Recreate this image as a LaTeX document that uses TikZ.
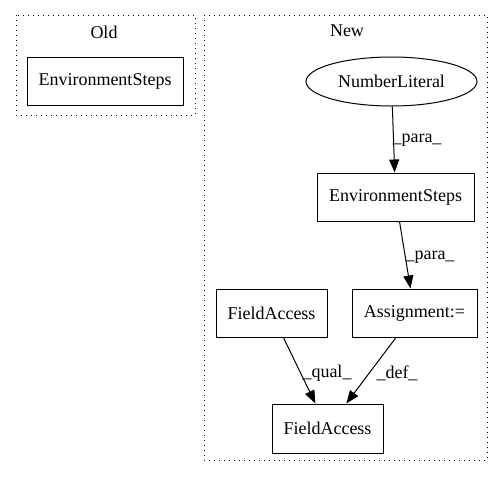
\documentclass[tikz,border=0pt]{standalone}
\usepackage{fontspec}
\setmainfont{Liberation Serif}
\usetikzlibrary{arrows.meta,shapes.geometric}
\tikzset{
  box/.style={draw,line width=1pt,rectangle,inner sep=0pt,minimum height=48pt,font=\fontsize{18}{20}\selectfont},
  oval/.style={draw,line width=1pt,ellipse,inner sep=0pt,minimum height=49pt,minimum width=171pt,font=\fontsize{18}{20}\selectfont},
  cluster/.style={draw,line width=1pt,dash pattern=on 1.3pt off 3.7pt},
  ctitle/.style={font=\fontsize{18}{20}\selectfont,inner sep=0pt},
  elabel/.style={font=\fontsize{18}{20}\selectfont,inner sep=0pt},
  edge/.style={draw,line width=1pt,-{Triangle[length=13pt,width=10pt]}}
}
\begin{document}
\begin{tikzpicture}[x=1pt,y=-1pt]
\useasboundingbox (0,0) rectangle (504,480);
\fill[white] (0,0) rectangle (504,480);
% clusters
\draw[cluster] (16,15) rectangle (195,115);
\node[ctitle] (oldt) at (104,32) {Old};
\draw[cluster] (204,15) rectangle (487,460);
\node[ctitle] (newt) at (347,31) {New};
% nodes
\node[box,minimum width=156pt] (oldes) at (105,81) {EnvironmentSteps};
\node[oval] (num) at (391.5,81.5) {NumberLiteral};
\node[box,minimum width=157pt] (es) at (395.5,197) {EnvironmentSteps};
\node[box,minimum width=111pt] (fa1) at (271.5,313) {FieldAccess};
\node[box,minimum width=125pt] (asg) at (414.5,313) {Assignment:=};
\node[box,minimum width=111pt,minimum height=49pt] (fa2) at (327.5,428.5) {FieldAccess};
% edges
\draw[edge] (num) -- (es);
\draw[edge] (es) -- (asg);
\draw[edge] (fa1) -- (fa2);
\draw[edge] (asg) -- (fa2);
% labels
\node[elabel] (l1) at (417,140) {\_para\_};
\node[elabel] (l2) at (430,257) {\_para\_};
\node[elabel] (l3) at (327,373) {\_qual\_};
\node[elabel] (l4) at (397,373) {\_def\_};
\end{tikzpicture}
\end{document}
